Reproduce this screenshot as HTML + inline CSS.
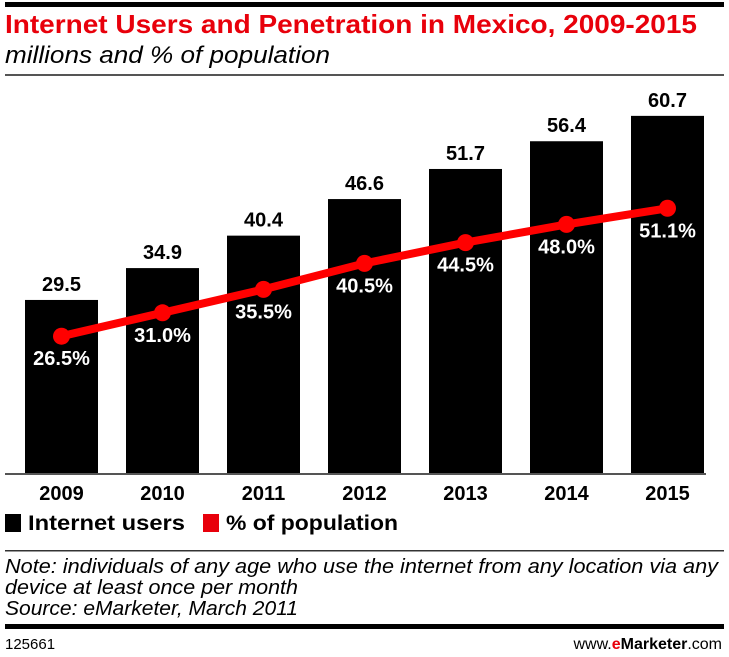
<!DOCTYPE html>
<html><head><meta charset="utf-8"><style>
body{margin:0;background:#fff;width:729px;height:657px;overflow:hidden;font-family:"Liberation Sans",sans-serif}
</style></head><body>
<svg width="729" height="657" style="position:absolute;left:0;top:0">
<rect x="5" y="2" width="719" height="5" fill="#000"/>
<text x="5" y="33" font-size="26" font-weight="bold" fill="#e8000b" textLength="692" lengthAdjust="spacingAndGlyphs">Internet Users and Penetration in Mexico, 2009-2015</text>
<text x="5" y="63" font-size="24" font-style="italic" fill="#000" textLength="325" lengthAdjust="spacingAndGlyphs">millions and % of population</text>
<rect x="5" y="74" width="719" height="2" fill="#555"/>
<g id="bars"></g>
<g id="line"></g>
<rect x="5" y="473" width="701" height="2" fill="#555"/>
<g id="xlabels"></g>
<rect x="5" y="514" width="16" height="18" fill="#000"/>
<text x="28" y="530" font-size="21" font-weight="bold" textLength="157" lengthAdjust="spacingAndGlyphs">Internet users</text>
<rect x="203" y="514" width="16" height="18" fill="#e8000b"/>
<text x="226" y="530" font-size="21" font-weight="bold" textLength="172" lengthAdjust="spacingAndGlyphs">% of population</text>
<rect x="5" y="550" width="719" height="1.5" fill="#333"/>
<text x="5" y="573" font-size="20" font-style="italic" textLength="713" lengthAdjust="spacingAndGlyphs">Note: individuals of any age who use the internet from any location via any</text>
<text x="5" y="594" font-size="20" font-style="italic" textLength="293" lengthAdjust="spacingAndGlyphs">device at least once per month</text>
<text x="5" y="615" font-size="20" font-style="italic" textLength="293" lengthAdjust="spacingAndGlyphs">Source: eMarketer, March 2011</text>
<rect x="5" y="624" width="719" height="5" fill="#000"/>
<text x="5" y="649" font-size="15">125661</text>
<text x="722" y="649" font-size="16" text-anchor="end">www.<tspan fill="#e8000b" font-weight="bold">e</tspan><tspan font-weight="bold">Marketer</tspan>.com</text>
</svg>
<script>
const years=["2009","2010","2011","2012","2013","2014","2015"];
const users=[29.5,34.9,40.4,46.6,51.7,56.4,60.7];
const pct=[26.5,31.0,35.5,40.5,44.5,48.0,51.1];
const NS="http://www.w3.org/2000/svg";
const base=474;
function xc(i){return 61.5+i*101;}
function yU(v){return base-v*5.9;}
function yP(v){return base-v*5.2;}
function mk(t,a,p){const e=document.createElementNS(NS,t);for(const k in a)e.setAttribute(k,a[k]);p.appendChild(e);return e;}
const gb=document.getElementById('bars'),gl=document.getElementById('line'),gx=document.getElementById('xlabels');
users.forEach((v,i)=>{
 const r=mk('rect',{x:xc(i)-36.5,y:yU(v),width:73,height:base-yU(v),fill:'#000'},gb);
 
 
 const t=mk('text',{x:xc(i),y:yU(v)-9,'font-size':20,'font-weight':'bold','text-anchor':'middle'},gb);
 t.textContent=v.toFixed(1);
 
 
 const l=mk('text',{x:xc(i),y:500,'font-size':20,'font-weight':'bold','text-anchor':'middle'},gx);
 l.textContent=years[i];
 
 
});
const pl=mk('polyline',{points:pct.map((v,i)=>xc(i)+','+yP(v)).join(' '),fill:'none',stroke:'#ff0000','stroke-width':8},gl);


pct.forEach((v,i)=>{
 const c=mk('circle',{cx:xc(i),cy:yP(v),r:8.5,fill:'#ff0000'},gl);
 
 
 const t=mk('text',{x:xc(i),y:yP(v)+29,'font-size':20,'font-weight':'bold','text-anchor':'middle',fill:'#fff'},gl);
 t.textContent=v.toFixed(1)+'%';
 
 
});
</script>
</body></html>
